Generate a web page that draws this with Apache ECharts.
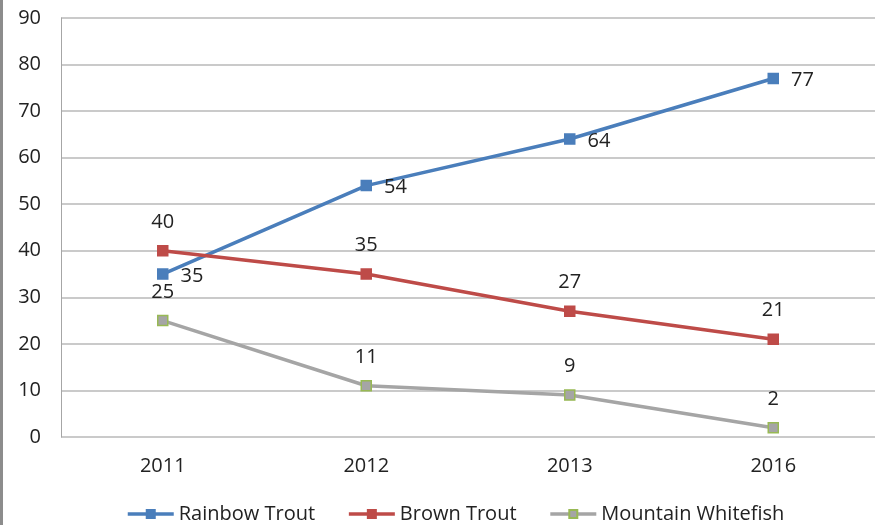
<!DOCTYPE html>
<html>
<head>
<meta charset="utf-8">
<script src="https://cdn.jsdelivr.net/npm/echarts@6/dist/echarts.min.js"></script>
<style>
html, body { margin: 0; padding: 0; background: #fff; }
#chart { width: 875px; height: 525px; }
</style>
</head>
<body>
<div id="chart"></div>
<script>
// 年份和各鱼种数量
const years = ['2011', '2012', '2013', '2016'];
const rainbowTrout = [35, 54, 64, 77];
const brownTrout = [40, 35, 27, 21];
const mountainWhitefish = [25, 11, 9, 2];

const chart = echarts.init(document.getElementById('chart'));

const font = 'Open Sans, Liberation Sans, sans-serif';
const fs = 20;

const mkSeries = (name, data, color, borderColor, labelPos) => ({
    name: name,
    type: 'line',
    data: data,
    symbol: 'rect',
    symbolSize: 10,
    lineStyle: { color: color, width: 3.5 },
    itemStyle: { color: color, borderColor: borderColor, borderWidth: 1.5 },
    label: {
        show: true,
        position: labelPos,
        distance: labelPos === 'top' ? 13 : 12,
        offset: labelPos === 'right' ? [0, 2] : [0, 0],
        color: '#222',
        fontSize: fs,
        fontFamily: font
    },
    emphasis: { disabled: true },
    animation: false
});

chart.setOption({
    animation: false,
    grid: { left: 61, top: 18, width: 819, bottom: 88 },
    legend: {
        bottom: -4,
        left: 121,
        itemWidth: 46,
        itemHeight: 10,
        itemGap: 32,
        lineStyle: { width: 3.5 },
        textStyle: { fontSize: fs, fontFamily: font, color: '#222' },
        data: ['Rainbow Trout', 'Brown Trout', 'Mountain Whitefish']
    },
    xAxis: {
        type: 'category',
        data: years,
        axisTick: { show: false },
        axisLine: { show: false },
        axisLabel: { margin: 19, fontSize: fs, fontFamily: font, color: '#222' }
    },
    yAxis: {
        type: 'value',
        min: 0,
        max: 90,
        interval: 10,
        axisLine: { show: true, lineStyle: { color: '#a6a6a6', width: 1 } },
        axisTick: { show: false },
        splitLine: { lineStyle: { color: '#b8b8b8', width: 1.5 } },
        axisLabel: { margin: 20, fontSize: fs, fontFamily: font, color: '#222' }
    },
    graphic: [{
        type: 'rect',
        shape: { x: 0, y: 0, width: 3, height: 525 },
        style: { fill: '#8c8c8c' }
    }],
    series: [
        mkSeries('Rainbow Trout', rainbowTrout, '#4a7ebb', '#4a7ebb', 'right'),
        mkSeries('Brown Trout', brownTrout, '#be4b48', '#be4b48', 'top'),
        mkSeries('Mountain Whitefish', mountainWhitefish, '#a5a5a5', '#98b954', 'top')
    ]
});
</script>
</body>
</html>
